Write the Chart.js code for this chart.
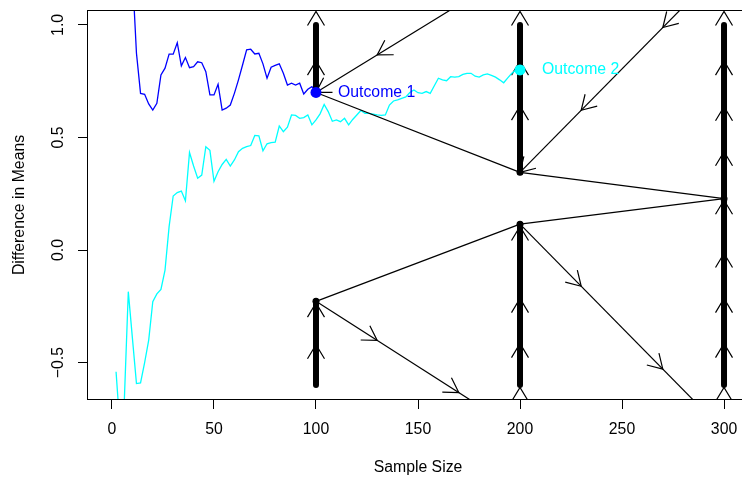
<!DOCTYPE html>
<html>
<head>
<meta charset="utf-8">
<title>Difference in Means by Sample Size</title>
<script src="https://cdn.jsdelivr.net/npm/chart.js@4.4.1/dist/chart.umd.min.js"></script>
<style>
  html, body { margin: 0; padding: 0; background: #ffffff; overflow: hidden; }
  #wrap { position: relative; width: 760px; height: 478px; }
</style>
</head>
<body>
<div id="wrap"><canvas id="chart"></canvas></div>
<script>
// Running difference in means for outcome 1 (stops at n = 100)
const outcome1N = [10, 12, 14, 16, 18, 20, 22, 24, 26, 28, 30, 32, 34, 36, 38, 40, 42, 44, 46, 48,
  50, 52, 54, 56, 58, 60, 62, 64, 66, 68, 70, 72, 74, 76, 78, 80, 82, 84, 86, 88,
  90, 92, 94, 96, 98, 100];
const outcome1Diff = [1.23, 0.874, 0.696, 0.692, 0.649, 0.622, 0.652, 0.778, 0.808, 0.870,
  0.870, 0.921, 0.818, 0.855, 0.810, 0.815, 0.836, 0.832, 0.792, 0.689,
  0.689, 0.736, 0.622, 0.630, 0.644, 0.696, 0.756, 0.822, 0.889, 0.892,
  0.871, 0.874, 0.827, 0.763, 0.812, 0.820, 0.827, 0.785, 0.733, 0.741,
  0.733, 0.741, 0.693, 0.714, 0.726, 0.700];

// Running difference in means for outcome 2 (stops at n = 200)
const outcome2N = [2, 4, 6, 8, 10, 12, 14, 16, 18, 20, 22, 24, 26, 28, 30, 32, 34, 36, 38, 40,
  42, 44, 46, 48, 50, 52, 54, 56, 58, 60, 62, 64, 66, 68, 70, 72, 74, 76, 78, 80,
  82, 84, 86, 88, 90, 92, 94, 96, 98, 100, 102, 104, 106, 108, 110, 112, 114, 116, 118, 120,
  122, 124, 126, 128, 130, 132, 134, 136, 138, 140, 142, 144, 146, 148, 150, 152, 154, 156, 158, 160,
  162, 164, 166, 168, 170, 172, 174, 176, 178, 180, 182, 184, 186, 188, 190, 192, 194, 196, 198, 200];
const outcome2Diff = [-0.541, -0.80, -0.68, -0.185, -0.39, -0.593, -0.590, -0.50, -0.40, -0.23,
  -0.195, -0.175, -0.089, 0.104, 0.240, 0.255, 0.262, 0.219, 0.433, 0.373,
  0.319, 0.333, 0.459, 0.443, 0.305, 0.348, 0.380, 0.403, 0.373, 0.400,
  0.437, 0.452, 0.459, 0.464, 0.509, 0.507, 0.441, 0.472, 0.477, 0.479,
  0.551, 0.526, 0.546, 0.600, 0.598, 0.585, 0.588, 0.600, 0.556, 0.578,
  0.605, 0.647, 0.615, 0.572, 0.578, 0.570, 0.585, 0.556, 0.580, 0.600,
  0.620, 0.607, 0.607, 0.604, 0.600, 0.598, 0.600, 0.644, 0.662, 0.667,
  0.674, 0.680, 0.700, 0.711, 0.699, 0.696, 0.704, 0.696, 0.730, 0.763,
  0.756, 0.752, 0.770, 0.768, 0.770, 0.780, 0.785, 0.785, 0.772, 0.768,
  0.778, 0.782, 0.776, 0.768, 0.756, 0.743, 0.765, 0.785, 0.800, 0.800];

// Decision nodes at the interim looks
const nodeN    = [100, 100, 200, 200, 300];
const nodeDiff = [0.70, -0.228, 0.345, 0.115, 0.228];

// Stopping bands (thick vertical segments)
const bandN     = [100, 100, 200, 200, 300];
const bandLower = [0.70, -0.60, 0.345, -0.60, -0.60];
const bandUpper = [1.00, -0.228, 1.00, 0.115, 1.00];

// Paths between looks: from (n, diff) to (n, diff)
const pathFromN    = [100, 200, 100, 200, 100, 200, 100, 200];
const pathFromDiff = [0.70, 0.345, -0.228, 0.115, 0.70, 0.345, -0.228, 0.115];
const pathToN      = [200, 300, 200, 300, 200, 300, 200, 300];
const pathToDiff   = [0.345, 0.228, 0.115, 0.228, 1.256, 1.264, -0.807, -0.805];

// Arrowheads on the open paths: path index, sample size of the tip,
// and direction (-1 = back toward the path start, +1 = onward)
const pathArrowPath = [4, 4, 5, 5, 5, 6, 6, 7, 7];
const pathArrowN    = [100, 130, 200, 230, 270, 130, 170, 230, 270];
const pathArrowDir  = [-1, -1, -1, -1, -1, 1, 1, 1, 1];

// Upward arrowheads along the stopping bands
const bandArrowN    = [100, 100, 100, 100,
  200, 200, 200, 200, 200, 200, 200,
  300, 300, 300, 300, 300, 300, 300, 300, 300];
const bandArrowDiff = [1.06, 0.84, -0.235, -0.42,
  1.06, 0.84, 0.64, 0.105, -0.215, -0.415, -0.61,
  1.06, 0.84, 0.637, 0.437, 0.222, -0.015, -0.215, -0.415, -0.61];

// Axes
const xTicks = [0, 50, 100, 150, 200, 250, 300];
const yTicks = [-0.5, 0, 0.5, 1.0];
const yTickLabels = ['\u22120.5', '0.0', '0.5', '1.0'];
const outcomeLabels = ['Outcome 1', 'Outcome 2'];

const BLUE = '#0000ff';
const CYAN = '#00ffff';
const FONT = "'Liberation Sans', Arial, Helvetica, sans-serif";
const FONT_SIZE = 15.8;

Chart.defaults.font.family = FONT;
Chart.defaults.font.size = FONT_SIZE;
Chart.defaults.color = '#000000';

const pts = (xs, ys) => xs.map((v, i) => ({ x: v, y: ys[i] }));
const last = arr => arr[arr.length - 1];

const datasets = [];

// Outcome markers (drawn on top)
datasets.push({
  data: [{ x: last(outcome1N), y: last(outcome1Diff) }],
  pointRadius: 5.5, pointBackgroundColor: BLUE, pointBorderWidth: 0, order: 0
});
datasets.push({
  data: [{ x: last(outcome2N), y: last(outcome2Diff) }],
  pointRadius: 5.5, pointBackgroundColor: CYAN, pointBorderWidth: 0, order: 0
});

// Node dots
datasets.push({
  data: pts(nodeN, nodeDiff),
  pointRadius: 3.5, pointBackgroundColor: '#000', pointBorderWidth: 0, order: 1
});

// Stopping bands
bandN.forEach((n, i) => {
  datasets.push({
    data: [{ x: n, y: bandLower[i] }, { x: n, y: bandUpper[i] }],
    showLine: true, pointRadius: 0, borderColor: '#000', borderWidth: 6,
    borderCapStyle: 'round', tension: 0, order: 2
  });
});

// Paths between looks
pathFromN.forEach((n, i) => {
  datasets.push({
    data: [{ x: n, y: pathFromDiff[i] }, { x: pathToN[i], y: pathToDiff[i] }],
    showLine: true, pointRadius: 0, borderColor: '#000', borderWidth: 1.2,
    tension: 0, order: 3
  });
});

// Outcome trajectories
datasets.push({
  data: pts(outcome2N, outcome2Diff),
  showLine: true, pointRadius: 0, borderColor: CYAN, borderWidth: 1.3, tension: 0, order: 4
});
datasets.push({
  data: pts(outcome1N, outcome1Diff),
  showLine: true, pointRadius: 0, borderColor: BLUE, borderWidth: 1.3, tension: 0, order: 4
});

// Open arrowhead with its tip at (tx, ty), pointing along (dx, dy)
function drawHead(ctx, tx, ty, dx, dy) {
  const L = 16.5, ang = 31 * Math.PI / 180;
  const back = Math.atan2(-dy, -dx);
  ctx.beginPath();
  ctx.moveTo(tx + L * Math.cos(back + ang), ty + L * Math.sin(back + ang));
  ctx.lineTo(tx, ty);
  ctx.lineTo(tx + L * Math.cos(back - ang), ty + L * Math.sin(back - ang));
  ctx.stroke();
}

const arrowPlugin = {
  id: 'arrowheads',
  beforeDatasetsDraw(chart) {
    const { ctx, chartArea: a, scales: { x, y } } = chart;
    ctx.save();
    ctx.beginPath();
    ctx.rect(a.left, a.top, a.right - a.left, a.bottom - a.top);
    ctx.clip();
    ctx.strokeStyle = '#000';
    ctx.lineWidth = 1.2;
    ctx.lineJoin = 'miter';
    bandArrowN.forEach((n, i) => {
      drawHead(ctx, x.getPixelForValue(n), y.getPixelForValue(bandArrowDiff[i]), 0, -1);
    });
    pathArrowPath.forEach((p, i) => {
      const x0 = x.getPixelForValue(pathFromN[p]), y0 = y.getPixelForValue(pathFromDiff[p]);
      const x1 = x.getPixelForValue(pathToN[p]), y1 = y.getPixelForValue(pathToDiff[p]);
      const t = (pathArrowN[i] - pathFromN[p]) / (pathToN[p] - pathFromN[p]);
      const len = Math.hypot(x1 - x0, y1 - y0);
      const s = pathArrowDir[i];
      drawHead(ctx, x0 + t * (x1 - x0), y0 + t * (y1 - y0), s * (x1 - x0) / len, s * (y1 - y0) / len);
    });
    ctx.restore();
  }
};

const textPlugin = {
  id: 'annotationText',
  afterDatasetsDraw(chart) {
    const { ctx, chartArea: a, scales: { x, y } } = chart;
    ctx.save();
    // plot frame
    ctx.strokeStyle = '#000';
    ctx.lineWidth = 1;
    ctx.strokeRect(a.left, a.top, a.right - a.left, a.bottom - a.top);

    ctx.font = FONT_SIZE + 'px ' + FONT;
    // y tick labels, parallel to the axis
    ctx.fillStyle = '#000';
    ctx.textAlign = 'center';
    ctx.textBaseline = 'middle';
    yTicks.forEach((v, i) => {
      ctx.save();
      ctx.translate(a.left - 29, y.getPixelForValue(v));
      ctx.rotate(-Math.PI / 2);
      ctx.fillText(yTickLabels[i], 0, 0);
      ctx.restore();
    });

    // outcome labels beside their final points
    ctx.textAlign = 'left';
    ctx.fillStyle = BLUE;
    ctx.fillText(outcomeLabels[0], x.getPixelForValue(last(outcome1N)) + 22, y.getPixelForValue(last(outcome1Diff)));
    ctx.fillStyle = CYAN;
    ctx.fillText(outcomeLabels[1], x.getPixelForValue(last(outcome2N)) + 22, y.getPixelForValue(last(outcome2Diff)));
    ctx.restore();
  }
};

new Chart(document.getElementById('chart'), {
  type: 'scatter',
  data: { datasets },
  options: {
    responsive: true,
    maintainAspectRatio: false,
    animation: false,
    devicePixelRatio: 1,
    events: [],
    layout: { padding: { left: 0, top: 10.5, right: 11.5, bottom: 0 } },
    plugins: { legend: { display: false }, tooltip: { enabled: false } },
    scales: {
      x: {
        type: 'linear', min: -12, max: 312,
        afterBuildTicks: s => { s.ticks = xTicks.map(v => ({ value: v })); },
        afterFit: s => { s.height = 78.5; },
        grid: { drawOnChartArea: false, drawTicks: true, tickLength: 9.5, color: '#000', tickColor: '#000', lineWidth: 1 },
        border: { display: true, color: '#000', width: 1 },
        ticks: { color: '#000', padding: 11, maxRotation: 0, minRotation: 0, autoSkip: false,
                 callback: v => String(v) },
        title: { display: true, text: 'Sample Size', color: '#000', padding: { top: 0, bottom: 1 } }
      },
      y: {
        type: 'linear', min: -0.664, max: 1.064,
        afterBuildTicks: s => { s.ticks = yTicks.map(v => ({ value: v })); },
        afterFit: s => { s.width = 87.5; },
        grid: { drawOnChartArea: false, drawTicks: true, tickLength: 9.5, color: '#000', tickColor: '#000', lineWidth: 1 },
        border: { display: true, color: '#000', width: 1 },
        ticks: { display: false },
        title: { display: true, text: 'Difference in Means', color: '#000', padding: { top: 10, bottom: 0 } }
      }
    }
  },
  plugins: [arrowPlugin, textPlugin]
});
</script>
</body>
</html>
